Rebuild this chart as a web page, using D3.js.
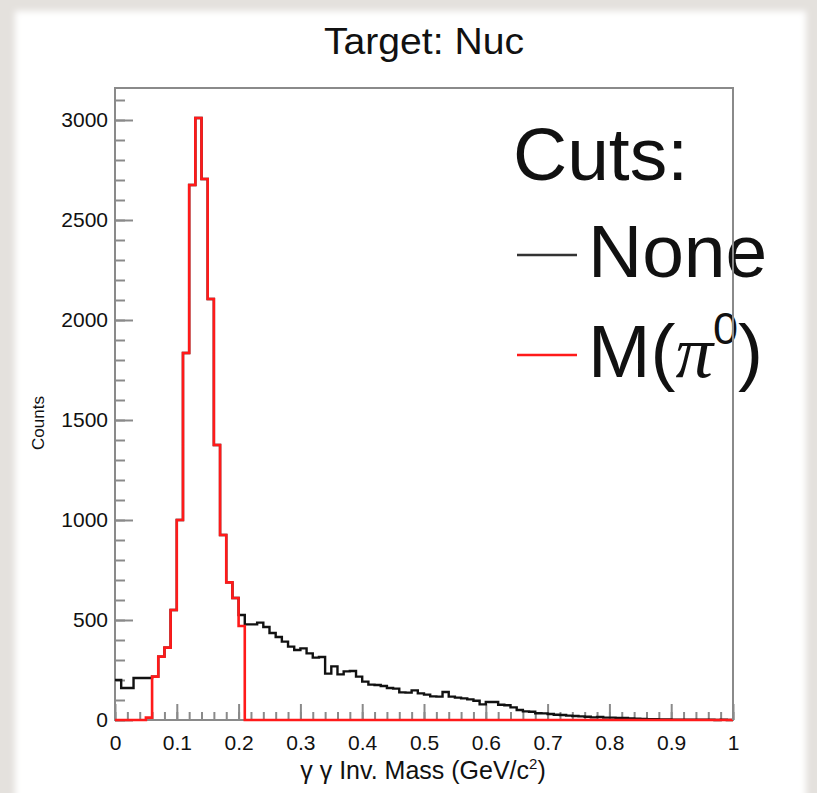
<!DOCTYPE html>
<html lang="en">
<head>
<meta charset="UTF-8">
<title>Target: Nuc</title>
<script src="https://cdn.jsdelivr.net/npm/d3@7"></script>
<style>
  body { margin: 0; background: #e4e1dd; }
  svg { display: block; }
  text { font-family: "Liberation Sans", Arial, Helvetica, sans-serif; fill: #111; }
</style>
</head>
<body>
<svg width="817" height="793"></svg>
<script>
// counts per 0.01 GeV bin, from 0 to 1
var noneCounts = [
  200, 160, 160, 210, 210, 210, 217, 317, 362, 550,
  1000, 1835, 2675, 3010, 2705, 2105, 1375, 925, 688, 610,
  525, 478, 478, 487, 465, 435, 415, 392, 367, 350,
  358, 333, 312, 315, 232, 268, 228, 243, 245, 217,
  192, 177, 175, 170, 160, 157, 138, 137, 148, 133,
  127, 118, 117, 140, 117, 112, 108, 103, 96, 78,
  90, 90, 76, 74, 63, 50, 43, 41, 34, 33,
  30, 26, 25, 22, 20, 18, 16, 13, 15, 12,
  12, 10, 10, 8, 7, 5, 4, 4, 3, 3,
  2, 2, 1, 2, 1, 1, 1, 0, 1, 0
];
var pi0Counts = [
  0, 0, 0, 0, 0, 12, 217, 317, 362, 550,
  1000, 1835, 2675, 3010, 2705, 2105, 1375, 925, 688, 610,
  470, 0, 0, 0, 0, 0, 0, 0, 0, 0,
  0, 0, 0, 0, 0, 0, 0, 0, 0, 0,
  0, 0, 0, 0, 0, 0, 0, 0, 0, 0,
  0, 0, 0, 0, 0, 0, 0, 0, 0, 0,
  0, 0, 0, 0, 0, 0, 0, 0, 0, 0,
  0, 0, 0, 0, 0, 0, 0, 0, 0, 0,
  0, 0, 0, 0, 0, 0, 0, 0, 0, 0,
  0, 0, 0, 0, 0, 0, 0, 0, 0, 0
];
var binWidth = 0.01;
var xTickValues = [0, 0.1, 0.2, 0.3, 0.4, 0.5, 0.6, 0.7, 0.8, 0.9, 1];
var xTickLabels = ["0", "0.1", "0.2", "0.3", "0.4", "0.5", "0.6", "0.7", "0.8", "0.9", "1"];
var yTickValues = [0, 500, 1000, 1500, 2000, 2500, 3000];
var yTickLabels = ["0", "500", "1000", "1500", "2000", "2500", "3000"];

var svg = d3.select("svg");
var W = +svg.attr("width"), H = +svg.attr("height");

// photo background: grey with a white page
var defs = svg.append("defs");
defs.append("filter").attr("id", "soft")
  .append("feGaussianBlur").attr("stdDeviation", 3);
svg.append("rect").attr("width", W).attr("height", H).attr("fill", "#e4e1dd");
svg.append("rect").attr("x", 15).attr("y", 11).attr("width", 791).attr("height", 800)
  .attr("fill", "#fff").attr("filter", "url(#soft)");

var frame = { left: 115, right: 733, top: 88, bottom: 720 };
var x = d3.scaleLinear().domain([0, 1]).range([frame.left, frame.right]);
var y = d3.scaleLinear().domain([0, 3160]).range([frame.bottom, frame.top]);

var axisColor = "#8a8a8a";

// x axis: minor + major ticks pointing up
svg.append("g").attr("transform", "translate(0," + frame.bottom + ")")
  .call(d3.axisBottom(x).tickValues(d3.range(0, 1.001, 0.02)).tickSize(-8).tickFormat(""));
svg.append("g").attr("transform", "translate(0," + frame.bottom + ")")
  .call(d3.axisBottom(x).tickValues(xTickValues).tickSize(-16).tickPadding(15)
    .tickFormat(function (d, i) { return xTickLabels[i]; }));

// y axis
svg.append("g").attr("transform", "translate(" + frame.left + ",0)")
  .call(d3.axisLeft(y).tickValues(d3.range(0, 3101, 100)).tickSize(-10).tickFormat(""));
svg.append("g").attr("transform", "translate(" + frame.left + ",0)")
  .call(d3.axisLeft(y).tickValues(yTickValues).tickSize(-18).tickPadding(7)
    .tickFormat(function (d, i) { return yTickLabels[i]; }));

svg.selectAll(".domain").remove();
svg.selectAll(".tick line").attr("stroke", axisColor).attr("stroke-width", 2);
svg.selectAll(".tick text").attr("font-size", 21).attr("fill", "#222")
  .attr("font-family", "'Liberation Sans', Arial, sans-serif");

// frame
svg.append("rect")
  .attr("x", frame.left).attr("y", frame.top)
  .attr("width", frame.right - frame.left).attr("height", frame.bottom - frame.top)
  .attr("fill", "none").attr("stroke", axisColor).attr("stroke-width", 2);

// histograms as step lines
function histPoints(counts) {
  var pts = counts.map(function (c, i) { return [i * binWidth, c]; });
  pts.push([counts.length * binWidth, counts[counts.length - 1]]);
  return pts;
}
var line = d3.line()
  .x(function (d) { return x(d[0]); })
  .y(function (d) { return y(d[1]); })
  .curve(d3.curveStepAfter);

svg.append("path").attr("d", line(histPoints(noneCounts)))
  .attr("fill", "none").attr("stroke", "#111").attr("stroke-width", 2.4);
svg.append("path").attr("d", line(histPoints(pi0Counts)))
  .attr("fill", "none").attr("stroke", "#ff1a1a").attr("stroke-width", 2.6);

// titles
svg.append("text").attr("x", 424).attr("y", 54).attr("text-anchor", "middle")
  .attr("font-size", 37).attr("textLength", 200).attr("lengthAdjust", "spacingAndGlyphs")
  .text("Target: Nuc");
svg.append("text").attr("transform", "translate(44,423) rotate(-90)")
  .attr("text-anchor", "middle").attr("font-size", 17).text("Counts");
var xt = svg.append("text").attr("x", 423).attr("y", 779).attr("text-anchor", "middle")
  .attr("font-size", 25);
xt.append("tspan").text("\u03b3 \u03b3 Inv. Mass (GeV/c");
xt.append("tspan").attr("font-size", 15).attr("dy", -10).text("2");
xt.append("tspan").attr("dy", 10).text(")");

// legend
var leg = svg.append("g");
leg.append("text").attr("x", 513).attr("y", 180).attr("font-size", 75).text("Cuts:");
leg.append("line").attr("x1", 517).attr("x2", 577).attr("y1", 255).attr("y2", 255)
  .attr("stroke", "#333").attr("stroke-width", 2.5);
leg.append("text").attr("x", 588).attr("y", 277).attr("font-size", 75).text("None");
leg.append("line").attr("x1", 517).attr("x2", 577).attr("y1", 355).attr("y2", 355)
  .attr("stroke", "#ff1a1a").attr("stroke-width", 2.5);
var lt = leg.append("text").attr("x", 588).attr("y", 377).attr("font-size", 75);
lt.append("tspan").text("M(");
lt.append("tspan").attr("font-family", "'Liberation Serif', serif").attr("font-style", "italic").text("\u03c0");
lt.append("tspan").attr("font-size", 45).attr("dy", -33).text("0");
lt.append("tspan").attr("dy", 33).text(")");

// right frame edge shows over the legend text
svg.append("line").attr("x1", frame.right).attr("x2", frame.right)
  .attr("y1", frame.top).attr("y2", frame.bottom)
  .attr("stroke", axisColor).attr("stroke-width", 2);
</script>
</body>
</html>
